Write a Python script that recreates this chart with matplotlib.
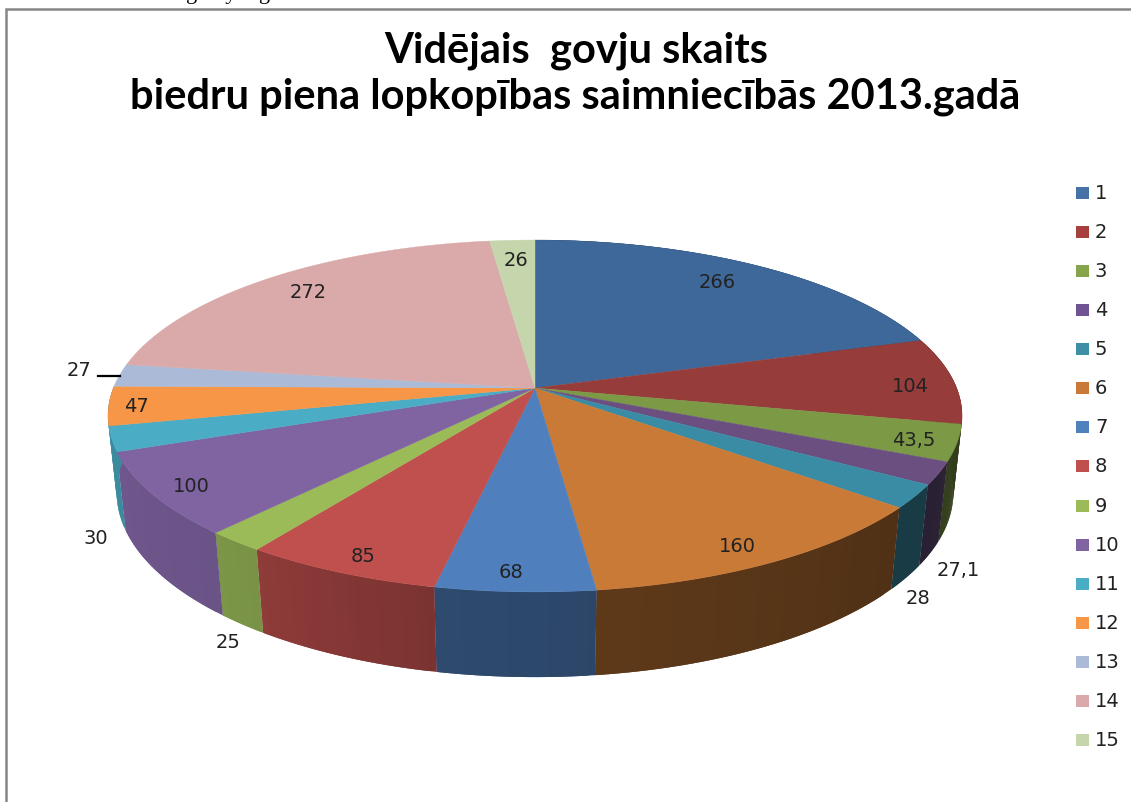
import numpy as np
import matplotlib
matplotlib.use("Agg")
import matplotlib.pyplot as plt
from matplotlib.colors import to_rgb
from matplotlib.patches import Rectangle

# data
saimniecibas = ["1", "2", "3", "4", "5", "6", "7", "8", "9", "10", "11", "12", "13", "14", "15"]
govis = [266, 104, 43.5, 27.1, 28, 160, 68, 85, 25, 100, 30, 47, 27, 272, 26]

# colours of the top face and how dark the side wall gets (start, end of each slice)
krasas = ["#3e6899", "#963c3a", "#7c9a46", "#6a4f80", "#3a8ca4", "#c87a36", "#4f80bd", "#c0504d",
          "#9bbb59", "#8064a2", "#4bacc6", "#f79646", "#aabad7", "#d9aaa9", "#c6d6ac"]
ena = [(.5, .5), (.45, .45), (.41, .41), (.40, .40), (.42, .42), (.40, .47), (.55, .58), (.64, .74),
       (.78, .80), (.83, .87), (.80, .80), (.8, .8), (.8, .8), (.8, .8), (.8, .8)]
krasas_leg = ["#4672a8", "#a5403e", "#86a44a", "#6f5393", "#3e8ea6", "#c87a36", "#4f81bd", "#c0504d",
              "#9bbb59", "#8064a2", "#4bacc6", "#f79646", "#aabad7", "#d9aaa9", "#c6d6ac"]

# label anchor points in figure pixels
label_x = [717, 910, 914, 958, 918, 737, 511, 363, 228, 191, 96, 136, 79, 308, 516]
label_y = [283, 386, 441, 571, 599, 547, 573, 556, 643, 487, 538, 407, 370, 292, 261]

# perspective of the pie, fitted to the picture
CX, CY = 535, 388
A, B, K = 421.6, 171.5, 0.159
VY = 4200
DEPTH = 0.01985


def rim(t):
    w = 1 + K * np.sin(t)
    return CX + A * np.cos(t) / w, CY - B * np.sin(t) / w, w


def rim_bottom(t):
    x, y, w = rim(t)
    f = DEPTH / w
    return x + f * (CX - x), y + f * (VY - y)


fig = plt.figure(figsize=(11.31, 8.02), dpi=100)
ax = fig.add_axes([0, 0, 1, 1])
ax.set_xlim(0, 1131)
ax.set_ylim(802, 0)
ax.axis("off")

total = sum(govis)
granicas = np.pi / 2 - np.cumsum([0] + govis) / total * 2 * np.pi

# side wall, cut into thin strips for the shading
# slice 11 also takes the left edge of the wall, slices after it have no visible wall
for i in range(11):
    t0, t1 = granicas[i], granicas[i + 1]
    if i == 10:
        t1 = granicas[12]
    n = 24
    tt = np.linspace(t0, t1, n + 1)
    base = np.array(to_rgb(krasas[i]))
    for j in range(n):
        s = ena[i][0] + (ena[i][1] - ena[i][0]) * j / (n - 1)
        ts = np.linspace(tt[j], tt[min(j + 2, n)], 5)
        xt, yt, _ = rim(ts)
        xb, yb = rim_bottom(ts)
        ax.fill(np.r_[xt, xb[::-1]], np.r_[yt, yb[::-1]], color=base * s, lw=0, zorder=2 + i * 0.01)

# top face
for i in range(len(govis)):
    ts = np.linspace(granicas[i], granicas[i + 1], 80)
    xt, yt, _ = rim(ts)
    ax.fill(np.r_[CX, xt], np.r_[CY, yt], color=krasas[i], lw=0.3, zorder=3)

# value labels
for i in range(len(govis)):
    ax.text(label_x[i], label_y[i], str(govis[i]).replace(".", ","), fontsize=14, color="#222222",
            ha="center", va="center", zorder=5)
ax.plot([98, 120], [376, 376], color="black", lw=1.6, zorder=5)

# legend
for i, nos in enumerate(saimniecibas):
    y = 193 + i * 39.07
    ax.add_patch(Rectangle((1076, y - 6), 13, 12, facecolor=krasas_leg[i], edgecolor="none", zorder=5))
    ax.text(1095, y + 0.5, nos, fontsize=14, color="#222222", ha="left", va="center", zorder=5)

# title
ax.text(576, 62, "Vidējais  govju skaits", fontsize=30, fontweight="bold", family="Lato",
        ha="center", va="baseline", color="black")
ax.text(575, 108, "biedru piena lopkopības saimniecībās 2013.gadā", fontsize=30, fontweight="bold",
        family="Lato", ha="center", va="baseline", color="black")

# frame and the cut off line of text above it
ax.plot([5.5, 5.5, 1131], [802, 9, 9], color="#868686", lw=1.8, solid_joinstyle="miter")
ax.text(186, -1, "g     y    g", fontsize=16, family="Liberation Serif", ha="left", va="baseline", color="black")

fig.savefig("out.png", dpi=100, facecolor="white")
